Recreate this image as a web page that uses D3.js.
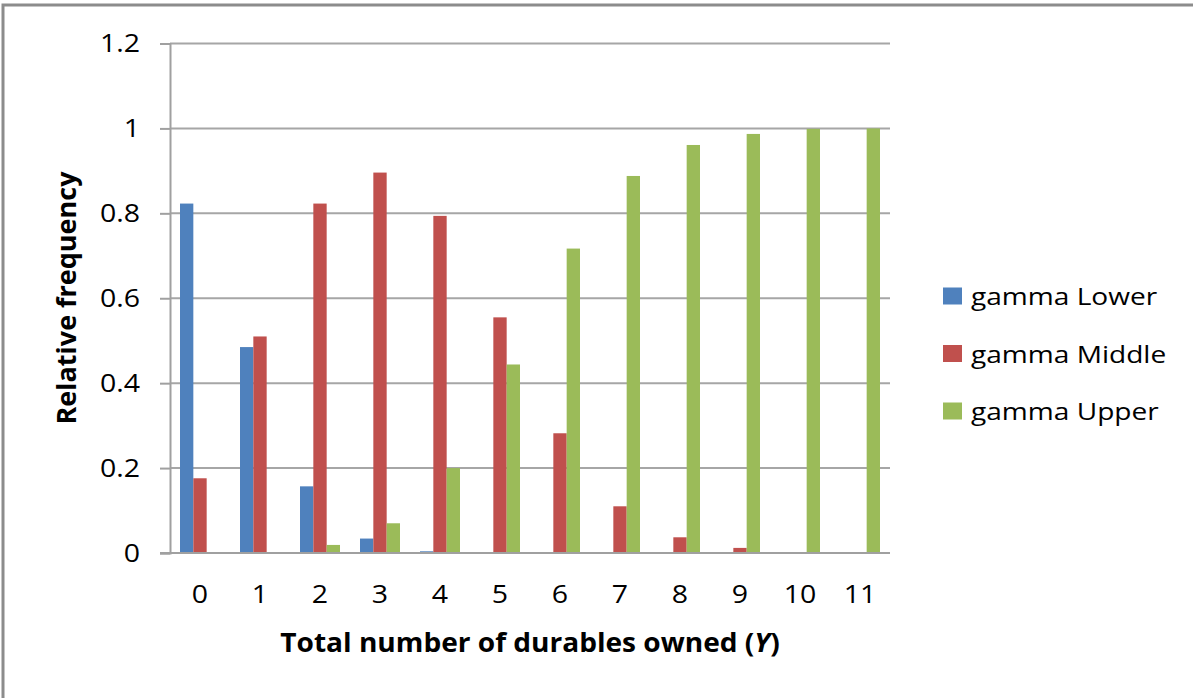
<!DOCTYPE html>
<html>
<head>
<meta charset="utf-8">
<script src="https://cdn.jsdelivr.net/npm/d3@7"></script>
<style>
  html, body { margin: 0; padding: 0; background: #fff; }
  svg { display: block; }
  text { font-family: "Open Sans", "Noto Sans", sans-serif; fill: #000; }
</style>
</head>
<body>
<svg id="chart" width="1193" height="698"></svg>
<script>
// Categories: total number of durables owned
const categories = ["0", "1", "2", "3", "4", "5", "6", "7", "8", "9", "10", "11"];

// Relative frequency per class
const seriesNames = ["gamma Lower", "gamma Middle", "gamma Upper"];
const gammaLower  = [0.823, 0.485, 0.157, 0.034, 0.004, 0, 0, 0, 0, 0, 0, 0];
const gammaMiddle = [0.176, 0.510, 0.823, 0.896, 0.794, 0.555, 0.282, 0.110, 0.037, 0.012, 0, 0];
const gammaUpper  = [0, 0, 0.019, 0.070, 0.200, 0.444, 0.717, 0.888, 0.961, 0.987, 0.999, 1.0];

const yTicks = [0, 0.2, 0.4, 0.6, 0.8, 1, 1.2];
const colors = ["#4F81BD", "#C0504D", "#9BBB59"];

// Text is drawn slightly widened horizontally
const stretch = 1.14;

const svg = d3.select("#chart");

// Outer frame (top and left edges)
svg.append("path")
  .attr("d", "M3,698 V5 H1193")
  .attr("fill", "none")
  .attr("stroke", "#8c8c8c")
  .attr("stroke-width", 3);

const plot = { left: 170, right: 890, top: 43.5, bottom: 553 };

const x0 = d3.scaleBand()
  .domain(categories)
  .range([plot.left, plot.right])
  .paddingInner(0)
  .paddingOuter(0);

// 150% gap width: three bars plus 1.5 bar widths of gap per category
const barW = x0.bandwidth() / 4.5;
const x1 = d3.scaleBand()
  .domain(seriesNames)
  .range([barW * 0.75, barW * 3.75]);

const y = d3.scaleLinear().domain([0, 1.2]).range([plot.bottom, plot.top]);

// Horizontal gridlines
svg.append("g")
  .selectAll("line")
  .data(yTicks.filter(d => d > 0))
  .join("line")
  .attr("x1", plot.left)
  .attr("x2", plot.right)
  .attr("y1", d => y(d))
  .attr("y2", d => y(d))
  .attr("stroke", "#a6a6a6")
  .attr("stroke-width", 2);

// Bars
const series = [gammaLower, gammaMiddle, gammaUpper];
series.forEach((vals, si) => {
  svg.append("g")
    .selectAll("rect")
    .data(vals.map((v, i) => ({ cat: categories[i], v })))
    .join("rect")
    .attr("x", d => x0(d.cat) + x1(seriesNames[si]))
    .attr("width", x1.bandwidth())
    .attr("y", d => y(d.v))
    .attr("height", d => y(0) - y(d.v))
    .attr("fill", colors[si]);
});

// Y axis
const yAxis = d3.axisLeft(y)
  .tickValues(yTicks)
  .tickFormat(d => d3.format("~g")(d))
  .tickSize(10)
  .tickPadding(20);

const gy = svg.append("g")
  .attr("transform", `translate(${plot.left},0)`)
  .call(yAxis);
gy.select(".domain").attr("stroke", "#a0a0a0").attr("stroke-width", 2);
gy.selectAll(".tick line").attr("stroke", "#a0a0a0").attr("stroke-width", 2);
gy.selectAll(".tick text")
  .attr("x", 0)
  .attr("transform", `translate(-30,0) scale(${stretch},1)`)
  .style("font-family", "'Open Sans', sans-serif")
  .style("font-size", "25px")
  .attr("fill", "#000");

// X axis
const xAxis = d3.axisBottom(x0).tickSize(0).tickPadding(32);
const gx = svg.append("g")
  .attr("transform", `translate(0,${plot.bottom})`)
  .call(xAxis);
gx.select(".domain").attr("stroke", "#a0a0a0").attr("stroke-width", 2)
  .attr("d", `M${plot.left - 10},0H${plot.right}`);
gx.selectAll(".tick text")
  .attr("transform", `scale(${stretch},1)`)
  .style("font-family", "'Open Sans', sans-serif")
  .style("font-size", "25px")
  .attr("fill", "#000");

// Axis titles
const xt = svg.append("text")
  .attr("transform", "translate(530,652) scale(1.08,1)")
  .attr("text-anchor", "middle")
  .style("font-size", "26px")
  .style("font-weight", "bold");
xt.append("tspan").text("Total number of durables owned (");
xt.append("tspan").style("font-style", "italic").text("Y");
xt.append("tspan").text(")");

svg.append("text")
  .attr("transform", "translate(76,298) rotate(-90)")
  .attr("text-anchor", "middle")
  .style("font-size", "27px")
  .style("font-weight", "bold")
  .text("Relative frequency");

// Legend
const legend = svg.append("g");
seriesNames.forEach((name, i) => {
  const cy = 296 + i * 57.5;
  legend.append("rect")
    .attr("x", 943)
    .attr("y", cy - 8.5)
    .attr("width", 19)
    .attr("height", 17)
    .attr("fill", colors[i]);
  legend.append("text")
    .attr("transform", `translate(971,${cy + 9}) scale(1.17,1)`)
    .style("font-size", "24px")
    .text(name);
});
</script>
</body>
</html>
